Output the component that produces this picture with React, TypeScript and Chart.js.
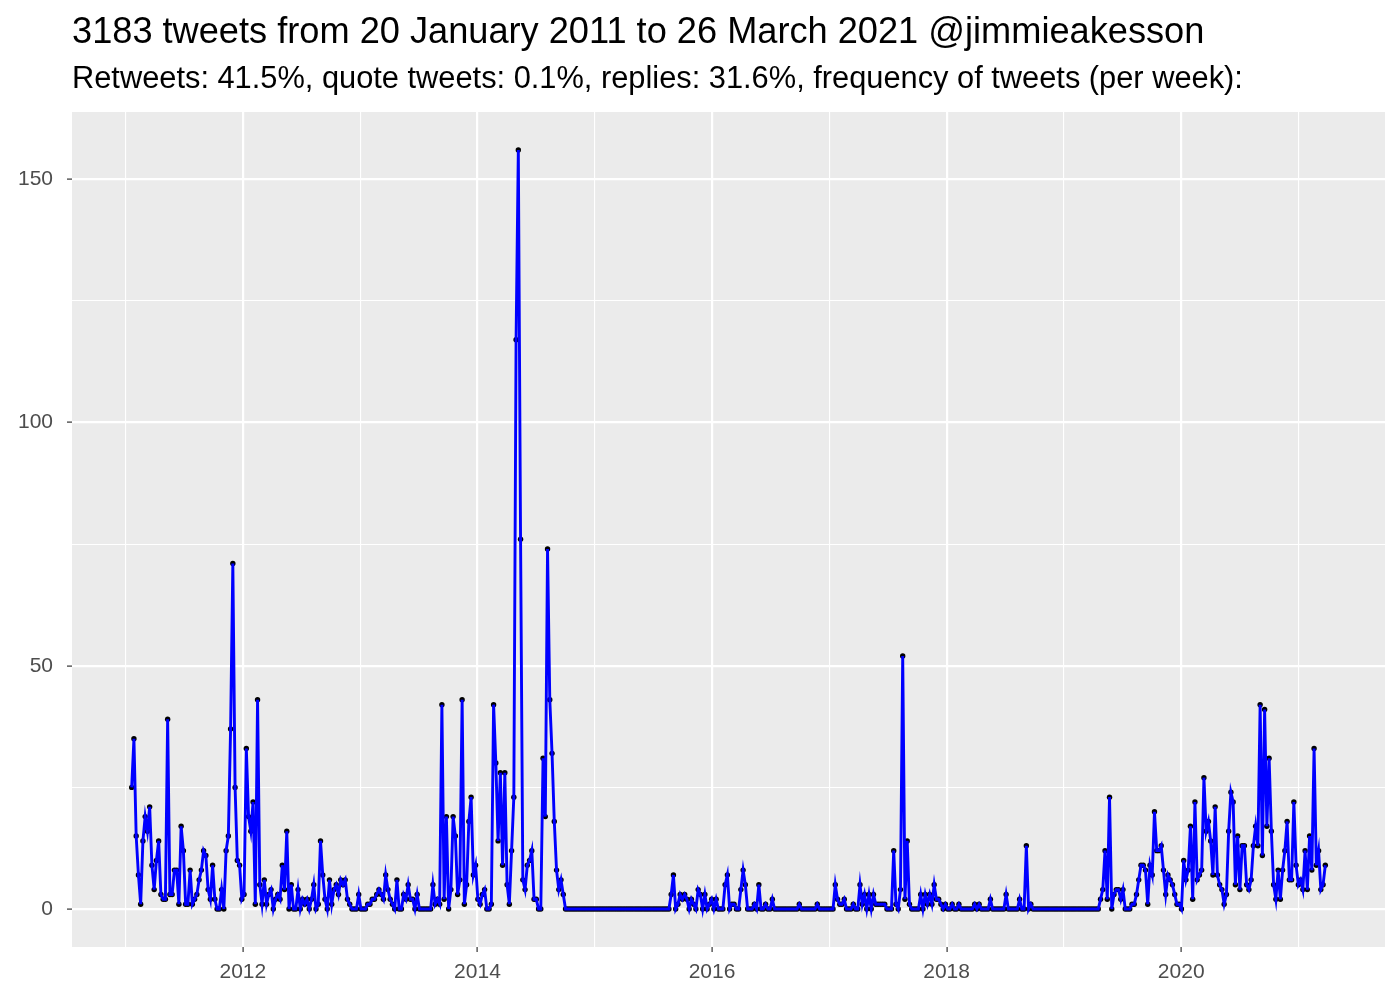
import React, { useEffect, useRef } from "react";
import { Chart, registerables } from "chart.js";

Chart.register(...registerables);

const TITLE = "3183 tweets from 20 January 2011 to 26 March 2021 @jimmieakesson";
const SUBTITLE =
  "Retweets: 41.5%, quote tweets: 0.1%, replies: 31.6%, frequency of tweets (per week):";

// first week: 20 January 2011, as a fractional year; one point per week
const FIRST_WEEK_YEAR = 2011 + 19 / 365;
const WEEK_IN_YEARS = 7 / 365.25;

const xTickValues = [2011, 2012, 2013, 2014, 2015, 2016, 2017, 2018, 2019, 2020, 2021];
const xTickLabels = ["2012", "2014", "2016", "2018", "2020"];
const yTickValues = [0, 25, 50, 75, 100, 125, 150];
const yTickLabels = ["0", "50", "100", "150"];

// tweets per week
const counts2011to2012 = [
  25, 35, 15, 7, 1, 14, 19, 16, 21, 9, 4, 10, 14, 3, 2, 2, 39, 3, 3, 8, 8, 1, 17, 12, 1, 1, 8, 1, 2, 3, 6, 8, 12, 11, 4, 2, 9,
  2, 0, 0, 4, 0, 12, 15, 37, 71, 25, 10, 9, 2, 3, 33, 19, 16,
  22, 1, 43, 5, 1, 6, 1, 3, 4, 0, 2, 3, 2, 9, 4, 16, 0, 5, 0, 0, 4, 0, 2,
];
const counts2013to2014 = [
  1, 2, 0, 2, 5, 0, 1, 14, 7, 2, 0, 6, 1, 4, 5, 3, 6, 5, 6, 2, 1, 0, 0, 0, 3, 0, 0, 0, 1, 1, 2, 2, 3, 4, 3, 2, 7, 4, 2, 1, 0,
  6, 0, 0, 3, 2, 5, 2, 2, 0, 3, 0, 0, 0, 0, 0, 0, 5, 1, 2, 1, 42,
  2, 19, 0, 4, 19, 15, 3, 6, 43, 1, 5, 18, 23, 7, 9, 2, 1, 3, 4, 0, 0, 1,
  42, 30, 14, 28, 9, 28, 5, 1, 12, 23, 117, 156, 76, 6, 4, 9, 10, 12, 2, 2, 0, 0, 31, 19, 74, 43, 32, 18, 8, 4, 6, 3, 0,
];
const counts2015to2016 = [
  0, 0, 0, 0, 0, 0, 0, 0, 0, 0, 0, 0, 0, 0, 0, 0, 0, 0, 0, 0, 0, 0, 0,
  0, 0, 0, 0, 0, 0, 0, 0, 0, 0, 0, 0, 0, 0, 0, 0, 0, 0, 0, 0, 0, 0, 0,
  3, 7, 0, 1, 3, 2, 3, 2, 0, 2, 1, 0, 4, 3, 0, 3, 0, 1, 2, 0, 2, 0, 0, 0, 5, 7, 0, 1, 1, 0,
  0, 4, 8, 5, 0, 0, 0, 1, 0, 5, 0, 0, 1, 0, 0, 2,
  0, 0, 0, 0, 0, 0, 0, 0, 0, 0, 0, 1, 0, 0, 0, 0, 0, 0, 0, 1, 0, 0, 0, 0, 0, 0, 0,
];
const counts2017to2018 = [
  5, 2, 1, 1, 2, 0, 0, 0, 1, 0, 0, 5, 1, 3, 0, 3, 0, 3, 1, 1, 1, 1, 1, 0, 0, 0,
  12, 1, 0, 4, 52, 2, 14,
  1, 0, 0, 0, 0, 3, 0, 3, 1, 3, 1, 5, 2, 2, 1, 0, 1, 0, 0, 1, 0, 0, 1,
  0, 0, 0, 0, 0, 0, 1, 0, 1, 0, 0, 0, 0, 2, 0, 0, 0, 0, 0, 0, 3, 0, 0, 0, 0, 0, 2, 0, 0, 13, 0, 1,
  0, 0, 0, 0, 0, 0, 0, 0, 0, 0, 0, 0, 0, 0, 0, 0, 0, 0, 0, 0, 0, 0, 0, 0, 0, 0, 0, 0, 0, 0,
];
const counts2019to2021 = [
  2, 4, 12, 2, 23, 0, 3, 4, 4, 2, 4, 0, 0, 0, 1, 1, 3, 6, 9, 9, 8, 1, 9, 7, 20, 12, 12, 13, 8, 3, 7, 6, 5, 3, 1, 1,
  0, 10, 6, 8, 17, 2, 22, 6, 7, 8, 27, 16, 18, 14, 7, 21, 7, 5, 4, 1, 3, 16, 24, 22, 5, 15, 4, 13, 13, 5, 4, 6,
  13, 17, 13, 42, 11, 41, 17, 31, 16, 5, 2, 8, 2, 8, 12, 18, 6, 6, 22, 9, 5, 6, 4, 12, 4, 15, 8, 33, 9, 12, 4, 5, 9,
];

const weeklyCounts = [
  ...counts2011to2012,
  ...counts2013to2014,
  ...counts2015to2016,
  ...counts2017to2018,
  ...counts2019to2021,
];

const FONT = "'Liberation Sans', Arial, Helvetica, sans-serif";

export default function App() {
  const ref = useRef<HTMLCanvasElement | null>(null);

  useEffect(() => {
    const canvas = ref.current;
    if (!canvas) return;
    const points = weeklyCounts.map((v, i) => ({ x: FIRST_WEEK_YEAR + i * WEEK_IN_YEARS, y: v }));
    const xs = points.map((p) => p.x);
    const xMin = Math.min(...xs);
    const xMax = Math.max(...xs);
    const xPad = (xMax - xMin) * 0.05;
    const yMax = Math.max(...weeklyCounts);
    const yPad = yMax * 0.05;

    const panelPlugin = {
      id: "panel",
      beforeDraw(chart: any) {
        const { ctx, chartArea } = chart;
        ctx.save();
        ctx.fillStyle = "#ffffff";
        ctx.fillRect(0, 0, chart.width, chart.height);
        ctx.fillStyle = "#EBEBEB";
        ctx.fillRect(chartArea.left, chartArea.top, chartArea.right - chartArea.left, chartArea.bottom - chartArea.top);
        ctx.restore();
      },
      afterDraw(chart: any) {
        const { ctx, chartArea } = chart;
        ctx.save();
        ctx.fillStyle = "#000000";
        ctx.textAlign = "left";
        ctx.textBaseline = "alphabetic";
        ctx.font = `36.2px ${FONT}`;
        ctx.fillText(TITLE, chartArea.left, 43);
        ctx.font = `30.8px ${FONT}`;
        ctx.fillText(SUBTITLE, chartArea.left, 88);
        ctx.restore();
      },
    };

    const isMajorX = (v: number) => xTickLabels.includes(String(v));
    const isMajorY = (v: number) => yTickLabels.includes(String(v));

    const chart = new Chart(canvas, {
      type: "line",
      data: {
        datasets: [
          {
            data: points,
            borderColor: "#0000FF",
            borderWidth: 2.9,
            pointRadius: 0,
            tension: 0,
            fill: false,
            order: 0,
          },
          {
            data: points,
            showLine: false,
            pointRadius: 2.7,
            pointBackgroundColor: "#000000",
            pointBorderColor: "#000000",
            pointBorderWidth: 0,
            order: 1,
          },
        ],
      },
      options: {
        animation: false,
        responsive: false,
        maintainAspectRatio: false,
        devicePixelRatio: 1,
        layout: { padding: { top: 112, right: 15, left: 0, bottom: 0 } },
        plugins: {
          legend: { display: false },
          tooltip: { enabled: false },
          title: { display: false },
        },
        scales: {
          x: {
            type: "linear",
            min: xMin - xPad,
            max: xMax + xPad,
            afterBuildTicks: (s: any) => {
              s.ticks = xTickValues.map((v) => ({ value: v }));
            },
            afterFit: (s: any) => {
              s.height = 53;
            },
            ticks: {
              autoSkip: false,
              maxRotation: 0,
              color: "#4D4D4D",
              font: { family: FONT, size: 21 },
              padding: 8,
              callback: (v: any) => (isMajorX(Number(v)) ? String(v) : ""),
            },
            grid: {
              color: "#FFFFFF",
              lineWidth: (c: any) => (isMajorX(c.tick?.value) ? 2.2 : 1.1),
              drawTicks: true,
              tickLength: 5,
              tickWidth: 1.2,
              tickColor: (c: any) => (isMajorX(c.tick?.value) ? "#333333" : "rgba(0,0,0,0)"),
            },
            border: { display: false },
          },
          y: {
            type: "linear",
            min: -yPad,
            max: yMax + yPad,
            afterBuildTicks: (s: any) => {
              s.ticks = yTickValues.map((v) => ({ value: v }));
            },
            afterFit: (s: any) => {
              s.width = 72;
            },
            ticks: {
              autoSkip: false,
              color: "#4D4D4D",
              font: { family: FONT, size: 21 },
              padding: 14,
              callback: (v: any) => (isMajorY(Number(v)) ? String(v) : ""),
            },
            grid: {
              color: "#FFFFFF",
              lineWidth: (c: any) => (isMajorY(c.tick?.value) ? 2.2 : 1.1),
              drawTicks: true,
              tickLength: 5,
              tickWidth: 1.2,
              tickColor: (c: any) => (isMajorY(c.tick?.value) ? "#333333" : "rgba(0,0,0,0)"),
            },
            border: { display: false },
          },
        },
      },
      plugins: [panelPlugin],
    } as any);

    return () => chart.destroy();
  }, []);

  return (
    <div style={{ position: "absolute", left: 0, top: 0, width: 1400, height: 1000, background: "#fff" }}>
      <canvas ref={ref} width={1400} height={1000} style={{ display: "block", width: 1400, height: 1000 }} />
    </div>
  );
}
